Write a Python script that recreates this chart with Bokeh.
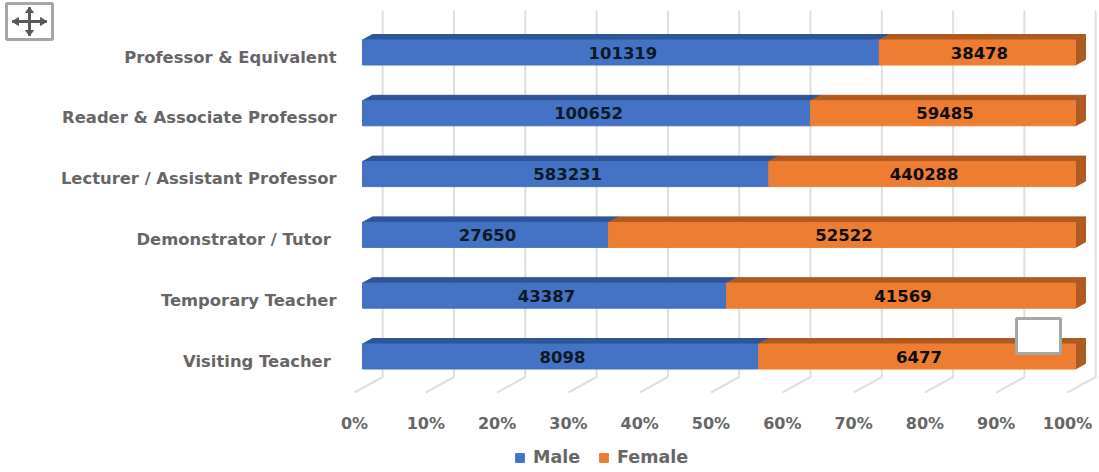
from bokeh.plotting import figure
from bokeh.embed import file_html
from bokeh.resources import INLINE
from bokeh.models import (Range1d, FixedTicker, Legend, LegendItem, BoxAnnotation, PolyAnnotation)
from bokeh.core.properties import value

categories = ["Visiting Teacher ", "Temporary Teacher", "Demonstrator / Tutor ",
              "Lecturer / Assistant Professor", "Reader & Associate Professor",
              "Professor & Equivalent"]
male = [8098, 43387, 27650, 583231, 100652, 101319]
female = [6477, 41569, 52522, 440288, 59485, 38478]
pct_ticks = [0, 10, 20, 30, 40, 50, 60, 70, 80, 90, 100]

BLUE, ORANGE = "#4472c4", "#ed7d31"
BLUE_D, ORANGE_D = "#2f5597", "#ae5a21"
GREY = "#666666"

W, H = 1099, 472
LEFT, TOP, BOTTOM = 354, 10, 80   # floor/plot area inset on the page
PX_X = 7.13          # pixels per percent
PX_Y = 60.8          # pixels per category
Y0 = -(392 - 360.5) / PX_Y
Y1 = (360.5 - TOP) / PX_Y

p = figure(width=W, height=H, output_backend="svg", toolbar_location=None,
           x_range=Range1d(-LEFT / PX_X, (W - LEFT) / PX_X),
           y_range=Range1d(Y0 - BOTTOM / PX_Y, Y1 + TOP / PX_Y),
           min_border=0, outline_line_color=None)
p.grid.visible = False

# 3-D depth expressed in axis units
BAR_X = 8 / PX_X      # bar front plane vs. floor front
WALL_X = 28.2 / PX_X  # back wall vs. floor front
FLOOR_Y = 15.5 / PX_Y
DX, DY = 10 / PX_X, 5.5 / PX_Y
BAR_C, BAR_H = 4.5 / PX_Y, 25 / PX_Y
LABEL_DX = 2 / PX_X

xs, ys = [], []
for t in pct_ticks:
    xs.append([t, t + WALL_X, t + WALL_X])
    ys.append([Y0, Y0 + FLOOR_Y, Y1])
p.multi_line(xs, ys, line_color="#dfdfdf", line_width=2)

ypos = list(range(len(categories)))
tot = [m + f for m, f in zip(male, female)]
mp = [100 * m / t for m, t in zip(male, tot)]
c = [y + BAR_C for y in ypos]
top = [y + BAR_H / 2 for y in c]
bot = [y - BAR_H / 2 for y in c]
ridge = lambda a, b, t: ([a + BAR_X, a + BAR_X + DX, b + BAR_X + DX, b + BAR_X],
                         [t, t + DY, t + DY, t])

for i in ypos:
    x1, y1 = ridge(0, mp[i], top[i])
    p.patch(x1, y1, color=BLUE_D)
    x2, y2 = ridge(mp[i], 100, top[i])
    p.patch(x2, y2, color=ORANGE_D)
    e = 100 + BAR_X
    p.patch([e, e + DX, e + DX, e],
            [top[i], top[i] + DY, bot[i] + DY, bot[i]], color=ORANGE_D)

r_m = p.hbar(y=c, left=[BAR_X] * 6, right=[m + BAR_X for m in mp], height=BAR_H, color=BLUE)
r_f = p.hbar(y=c, left=[m + BAR_X for m in mp], right=[100 + BAR_X] * 6, height=BAR_H, color=ORANGE)

font = value("DejaVu Sans")
p.text([m / 2 + BAR_X + LABEL_DX for m in mp], c, text=[str(v) for v in male], text_align="center",
       text_baseline="middle", text_font=font, text_font_style="bold", text_font_size="16.5px",
       text_color="#0d1a26")
p.text([(m + 100) / 2 + BAR_X + LABEL_DX for m in mp], c, text=[str(v) for v in female], text_align="center",
       text_baseline="middle", text_font=font, text_font_style="bold", text_font_size="16.5px",
       text_color="#0d0d0d")

xa = p.xaxis[0]
xa.fixed_location = Y0
xa.ticker = FixedTicker(ticks=pct_ticks)
xa.major_label_overrides = {t: f"{t}%" for t in pct_ticks}
xa.axis_line_color = None
xa.major_tick_line_color = None
xa.minor_tick_line_color = None
xa.major_label_standoff = 15
xa.major_label_text_color = GREY
xa.major_label_text_font = "DejaVu Sans"
xa.major_label_text_font_style = "bold"
xa.major_label_text_font_size = "16px"

ya = p.yaxis[0]
ya.fixed_location = 0
ya.ticker = FixedTicker(ticks=ypos)
ya.major_label_overrides = {i: n for i, n in enumerate(categories)}
ya.axis_line_color = None
ya.major_tick_line_color = None
ya.minor_tick_line_color = None
ya.major_label_standoff = 12
ya.major_label_text_color = GREY
ya.major_label_text_font = "DejaVu Sans"
ya.major_label_text_font_style = "bold"
ya.major_label_text_font_size = "16.4px"

leg = Legend(items=[LegendItem(label="Male", renderers=[r_m]), LegendItem(label="Female", renderers=[r_f])],
             orientation="horizontal", location=(514, 5), border_line_color=None,
             background_fill_alpha=0, padding=0, margin=0, spacing=18, glyph_width=11, glyph_height=11,
             label_standoff=8, label_text_color=GREY, label_text_font="DejaVu Sans",
             label_text_font_style="bold", label_text_font_size="17.5px")
p.add_layout(leg, "center")

# selection handles, given in page pixels
fx = lambda px: px
fy = lambda py: H - py

def box(l, t, r, b):
    p.add_layout(BoxAnnotation(left=fx(l), right=fx(r), top=fy(t), bottom=fy(b), left_units="screen",
                               right_units="screen", top_units="screen", bottom_units="screen",
                               fill_color="white", fill_alpha=1, line_color="#a6a6a6", line_alpha=1,
                               line_width=3, level="overlay"))
box(6, 3, 52, 39)
box(1016, 318, 1060, 353)

def poly(xs_, ys_):
    p.add_layout(PolyAnnotation(xs=[fx(v) for v in xs_], ys=[fy(v) for v in ys_], xs_units="screen",
                                ys_units="screen", fill_color="#595959", fill_alpha=1,
                                line_color="#595959", line_alpha=1, line_width=1, level="overlay"))
cx, cy = 29, 21
poly([cx - 17, cx + 17, cx + 17, cx - 17], [cy - 1, cy - 1, cy + 1, cy + 1])
poly([cx - 1, cx + 1, cx + 1, cx - 1], [cy - 14, cy - 14, cy + 14, cy + 14])
poly([cx - 17, cx - 11, cx - 11], [cy, cy - 4, cy + 4])
poly([cx + 17, cx + 11, cx + 11], [cy, cy - 4, cy + 4])
poly([cx, cx - 4, cx + 4], [cy - 14, cy - 9, cy - 9])
poly([cx, cx - 4, cx + 4], [cy + 14, cy + 9, cy + 9])

open("out.html", "w").write(file_html(p, INLINE))
